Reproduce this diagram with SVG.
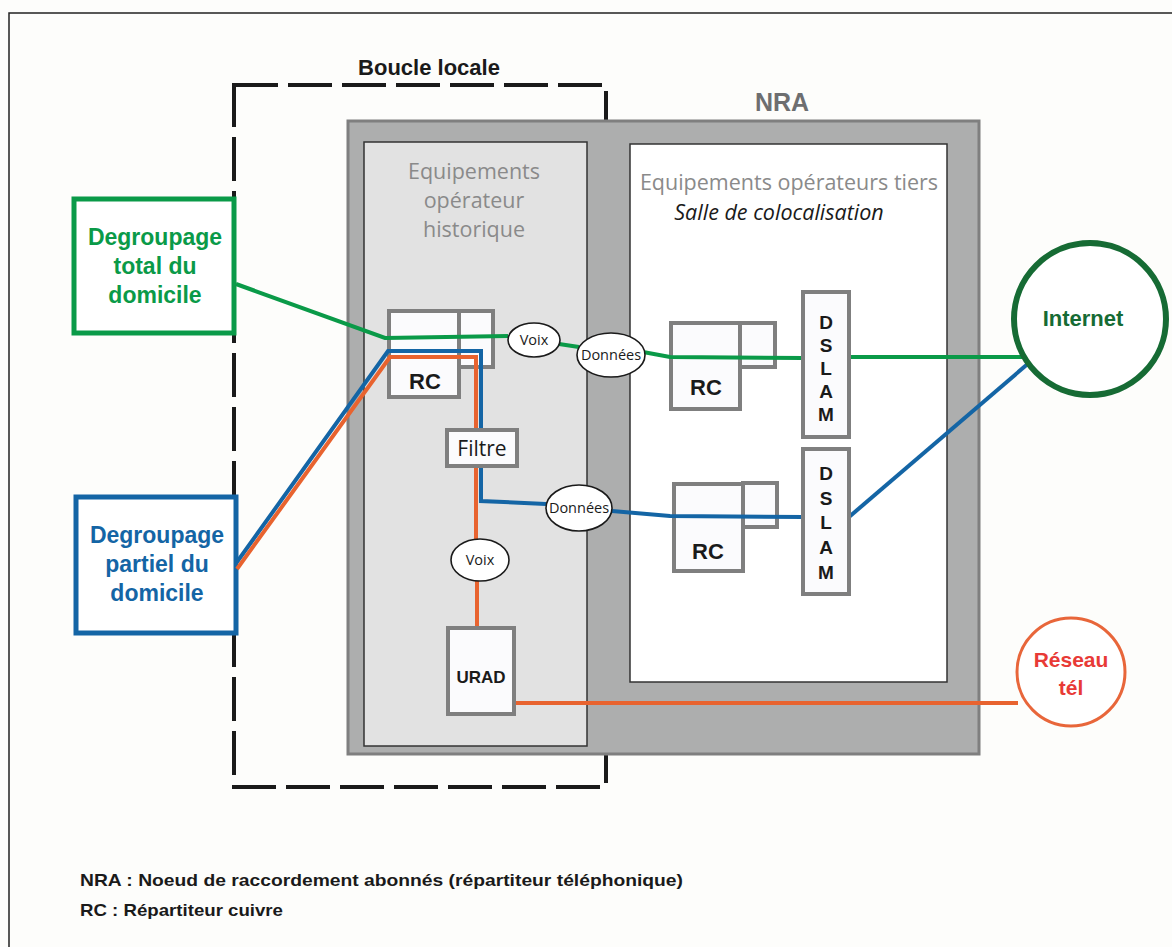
<svg xmlns="http://www.w3.org/2000/svg" width="1172" height="947" viewBox="0 0 1172 947">
<style>
.comp{fill:#fbfbfd;stroke:#7f7f7f;stroke-width:4}
.ell{fill:#fff;stroke:#1a1a1a;stroke-width:1.6}
.small{font-family:"Open Sans","Liberation Sans",sans-serif;font-size:14.5px;fill:#1a1a1a;text-anchor:middle}
.bold{font-family:"Liberation Sans",Arial,sans-serif;font-weight:bold;text-anchor:middle}
.gray{font-family:"Open Sans","Liberation Sans",sans-serif;font-size:21.5px;fill:#8a8a8a;text-anchor:middle}
.dslam{font-family:"Liberation Sans",Arial,sans-serif;font-weight:bold;font-size:19px;fill:#1a1a1a;text-anchor:middle}
.ln{fill:none;stroke-width:4;stroke-linejoin:miter}
</style>
<rect width="1172" height="947" fill="#fdfdfb"/>
<path d="M9,947 V13 H1172" fill="none" stroke="#222" stroke-width="1.5"/>

<g id="boucle-locale">
<rect x="234" y="85" width="372" height="702" fill="none" stroke="#1a1a1a" stroke-width="4" stroke-dasharray="44 10"/>
<text x="429" y="75" class="bold" font-size="22" fill="#1a1a1a">Boucle locale</text>
</g>

<g id="nra">
<rect x="348" y="121" width="631" height="633" fill="#adaeae" stroke="#7f7f7f" stroke-width="3"/>
<text x="782" y="111" class="bold" font-size="25" fill="#6d6e70">NRA</text>
</g>

<g id="historique">
<rect x="364" y="142" width="223" height="604" fill="#e2e2e2" stroke="#333" stroke-width="1.5"/>
<text x="474" y="179" class="gray">Equipements</text>
<text x="474" y="208" class="gray">opérateur</text>
<text x="474" y="237" class="gray">historique</text>
</g>

<g id="tiers">
<rect x="630" y="144" width="317" height="538" fill="#fff" stroke="#333" stroke-width="1.5"/>
<text x="789" y="190" class="gray">Equipements opérateurs tiers</text>
<text x="779" y="220" font-family="'Open Sans','Liberation Sans',sans-serif" font-style="italic" font-size="21.5" fill="#1a1a1a" text-anchor="middle">Salle de colocalisation</text>
</g>

<g id="degroupage-total">
<rect x="74" y="199" width="160" height="134" fill="#fff" stroke="#0a9a48" stroke-width="5"/>
<text class="bold" font-size="23" fill="#0a9a48"><tspan x="155" y="245">Degroupage</tspan><tspan x="155" y="274">total du</tspan><tspan x="155" y="303">domicile</tspan></text>
</g>

<g id="degroupage-partiel">
<rect x="76" y="497" width="160" height="136" fill="#fff" stroke="#1465a5" stroke-width="5"/>
<text class="bold" font-size="23" fill="#1465a5"><tspan x="157" y="543">Degroupage</tspan><tspan x="157" y="572">partiel du</tspan><tspan x="157" y="601">domicile</tspan></text>
</g>

<g id="rc-historique">
<rect x="389" y="311" width="70" height="86" class="comp"/>
<rect x="459" y="311" width="34" height="56" class="comp"/>
<text x="425" y="389" class="bold" font-size="22" fill="#1a1a1a">RC</text>
</g>

<g id="rc-tiers-1">
<rect x="671" y="323" width="69" height="86" class="comp"/>
<rect x="740" y="323" width="35" height="44" class="comp"/>
<text x="706" y="395" class="bold" font-size="22" fill="#1a1a1a">RC</text>
</g>

<g id="rc-tiers-2">
<rect x="674" y="484" width="69" height="87" class="comp"/>
<rect x="743" y="483" width="34" height="44" class="comp"/>
<text x="708" y="559" class="bold" font-size="22" fill="#1a1a1a">RC</text>
</g>

<g id="connectors">
<path class="ln" stroke="#0a9a48" d="M236,284 L385,338 L508,336"/>
<path class="ln" stroke="#0a9a48" d="M559,344 L579,347"/>
<path class="ln" stroke="#0a9a48" d="M643,352 L670,357 L803,358"/>
<path class="ln" stroke="#0a9a48" d="M849,357 L1022,357"/>
<path class="ln" stroke="#1465a5" d="M237,562 L388,351 L481,351 L481,501 L546,504"/>
<path class="ln" stroke="#1465a5" d="M612,511 L670,516 L803,517"/>
<path class="ln" stroke="#1465a5" d="M849,517 L1030,362"/>
<path class="ln" stroke="#e8632f" d="M237,569 L390,357 L476,357 L476,540"/>
<path class="ln" stroke="#e8632f" d="M477,581 L477,628"/>
<path class="ln" stroke="#e8632f" d="M515,703 L1018,703"/>
</g>

<g id="filtre">
<rect x="447" y="430" width="70" height="36" class="comp"/>
<text x="482" y="456" font-family="'Open Sans','Liberation Sans',sans-serif" font-size="21" fill="#1a1a1a" text-anchor="middle">Filtre</text>
</g>

<g id="voix-1">
<ellipse cx="534" cy="340" rx="26" ry="17" class="ell"/>
<text x="534" y="345" class="small">Voix</text>
</g>
<g id="donnees-1">
<ellipse cx="611" cy="355" rx="34" ry="22" class="ell"/>
<text x="611" y="360" class="small">Données</text>
</g>
<g id="donnees-2">
<ellipse cx="579" cy="508" rx="33" ry="23" class="ell"/>
<text x="579" y="513" class="small">Données</text>
</g>
<g id="voix-2">
<ellipse cx="480" cy="560" rx="29" ry="21" class="ell"/>
<text x="480" y="565" class="small">Voix</text>
</g>

<g id="urad">
<rect x="448" y="628" width="66" height="86" class="comp" fill="#fff"/>
<text x="481" y="683" class="bold" font-size="17" fill="#1a1a1a">URAD</text>
</g>

<g id="dslam-1">
<rect x="803" y="292" width="46" height="145" class="comp"/>
<text class="dslam"><tspan x="826" y="329">D</tspan><tspan x="826" y="352">S</tspan><tspan x="826" y="375">L</tspan><tspan x="826" y="398">A</tspan><tspan x="826" y="421">M</tspan></text>
</g>

<g id="dslam-2">
<rect x="803" y="449" width="46" height="145" class="comp"/>
<text class="dslam"><tspan x="826" y="480">D</tspan><tspan x="826" y="505">S</tspan><tspan x="826" y="529">L</tspan><tspan x="826" y="554">A</tspan><tspan x="826" y="579">M</tspan></text>
</g>

<g id="internet">
<circle cx="1090" cy="319" r="76" fill="#fff" stroke="#166b34" stroke-width="6"/>
<text x="1083" y="326" class="bold" font-size="22" fill="#166b34">Internet</text>
</g>

<g id="reseau-tel">
<circle cx="1071" cy="672" r="54" fill="#fff" stroke="#e8663a" stroke-width="3"/>
<text class="bold" font-size="21" fill="#e83a36"><tspan x="1071" y="667">Réseau</tspan><tspan x="1071" y="695">tél</tspan></text>
</g>

<g id="legende">
<text x="80" y="886" font-family="'Liberation Sans',Arial,sans-serif" font-weight="bold" font-size="17" fill="#1a1a1a" textLength="603" lengthAdjust="spacingAndGlyphs">NRA : Noeud de raccordement abonnés  (répartiteur téléphonique)</text>
<text x="80" y="916" font-family="'Liberation Sans',Arial,sans-serif" font-weight="bold" font-size="17" fill="#1a1a1a" textLength="203" lengthAdjust="spacingAndGlyphs">RC : Répartiteur cuivre</text>
</g>
</svg>
